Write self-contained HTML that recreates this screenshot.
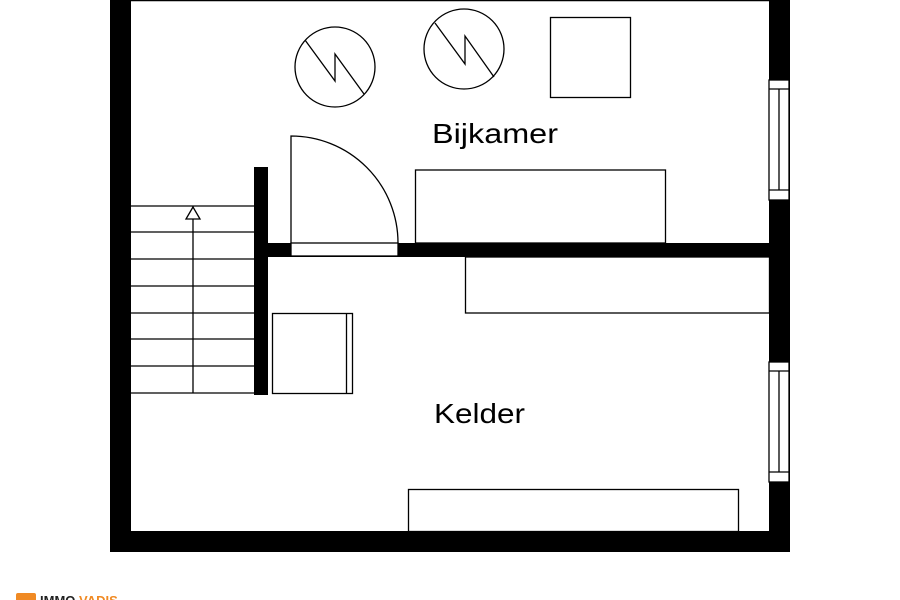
<!DOCTYPE html>
<html><head><style>
html,body{margin:0;padding:0;background:#fff;width:900px;height:600px;overflow:hidden}
</style></head><body>
<svg width="900" height="600" viewBox="0 0 900 600" xmlns="http://www.w3.org/2000/svg">
<rect width="900" height="600" fill="#fff"/>
<g fill="#000">
<rect x="110" y="0" width="21" height="552"/>
<rect x="110" y="531" width="680" height="21"/>
<rect x="769" y="0" width="21" height="552"/>
<rect x="254" y="167" width="14" height="228"/>
<rect x="254" y="243" width="515" height="14"/>
</g>
<line x1="131" y1="0.5" x2="769" y2="0.5" stroke="#000" stroke-width="1.5"/>
<g fill="#fff" stroke="#000" stroke-width="1.3">
<rect x="291" y="243" width="107" height="13"/>
<rect x="769" y="80" width="20" height="120"/>
<rect x="769" y="362" width="20" height="120"/>
</g>
<g fill="none" stroke="#000" stroke-width="1.3">
<line x1="769" y1="89" x2="789" y2="89"/><line x1="769" y1="190" x2="789" y2="190"/><line x1="779" y1="89" x2="779" y2="190"/>
<line x1="769" y1="371" x2="789" y2="371"/><line x1="769" y1="472" x2="789" y2="472"/><line x1="779" y1="371" x2="779" y2="472"/>
<path d="M291 243 V136 A107 107 0 0 1 398 243"/>
<line x1="131" y1="206" x2="254" y2="206"/><line x1="131" y1="232" x2="254" y2="232"/>
<line x1="131" y1="259" x2="254" y2="259"/><line x1="131" y1="286" x2="254" y2="286"/>
<line x1="131" y1="313" x2="254" y2="313"/><line x1="131" y1="339" x2="254" y2="339"/>
<line x1="131" y1="366" x2="254" y2="366"/><line x1="131" y1="393" x2="254" y2="393"/>
<line x1="193" y1="206" x2="193" y2="393"/>
<path d="M193 207 L186 219 H200 Z" fill="#fff"/>
<circle cx="335" cy="67" r="40"/>
<path d="M305 40 L335 81 V54 L364 94"/>
<circle cx="464" cy="49" r="40"/>
<path d="M435 23 L465 64 V36 L494 77"/>
<rect x="550.5" y="17.5" width="80" height="80"/>
<rect x="415.5" y="170" width="250" height="73"/>
<rect x="465.5" y="257" width="304" height="56"/>
<rect x="272.5" y="313.5" width="80" height="80"/>
<line x1="346.5" y1="313.5" x2="346.5" y2="393.5"/>
<rect x="408.5" y="489.5" width="330" height="42"/>
</g>
<g font-family="Liberation Sans, sans-serif" font-size="28" fill="#000">
<text x="432" y="143" textLength="126" lengthAdjust="spacingAndGlyphs">Bijkamer</text>
<text x="434" y="423" textLength="91" lengthAdjust="spacingAndGlyphs">Kelder</text>
</g>
<rect x="16" y="593" width="20" height="10" rx="2" fill="#f08a24"/>
<text x="40" y="605" font-family="Liberation Sans, sans-serif" font-weight="bold" font-size="13" fill="#222">IMMO <tspan fill="#f08a24">VADIS</tspan></text>
</svg>
</body></html>
